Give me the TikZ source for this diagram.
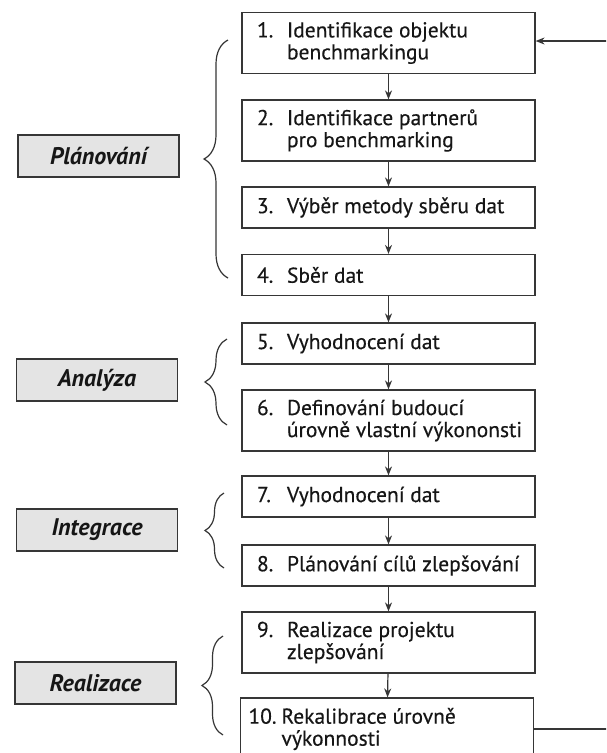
\documentclass[tikz,border=0pt]{standalone}
\usepackage{fontspec}
\setmainfont{PT Sans}
\newfontfamily\stepfont[FakeBold=0.35]{PT Sans}
\usetikzlibrary{arrows.meta,decorations.pathreplacing}
\definecolor{ink}{HTML}{161616}
\definecolor{edge}{HTML}{363636}
\definecolor{phasefill}{HTML}{E4E4E4}
% step text: number column, then the hanging text block
\newcommand{\stp}[2]{\hspace*{15pt}\makebox[30pt][l]{#1}\parbox[t]{248pt}{#2}}
\newcommand{\stpx}[2]{\hspace*{8pt}\makebox[33pt][l]{#1}\parbox[t]{252pt}{#2}}
\begin{document}
\begin{tikzpicture}[x=1pt,y=-1pt,
  stepbox/.style={draw=edge,line width=1.2pt,minimum width=293pt,inner xsep=0pt,
    inner ysep=0pt,text=ink,font=\stepfont\fontsize{21.5}{22}\selectfont},
  onel/.style={stepbox,minimum height=41pt},
  twol/.style={stepbox,minimum height=61pt},
  phase/.style={draw=edge,line width=1.2pt,fill=phasefill,minimum width=161pt,
    minimum height=42pt,text=ink,font=\fontsize{24}{24}\selectfont\bfseries\itshape},
  flow/.style={draw=edge,line width=1.2pt,-{Stealth[length=9pt,width=7pt]}},
  curly/.style={draw=edge,line width=1.2pt,decorate,decoration={brace,amplitude=#1}}
]
\useasboundingbox (0,0) rectangle (606,753);
\clip (0,0) rectangle (606,753);
\fill[white] (0,0) rectangle (606,753);

% process steps
\node[twol] (b1) at (388.5,43) {\stp{1.}{Identifikace objektu\\benchmarkingu}};
\node[twol] (b2) at (388.5,130.5) {\stp{2.}{Identifikace partnerů\\pro benchmarking}};
\node[onel] (b3) at (388.5,207.5) {\stp{3.}{Výběr metody sběru dat}};
\node[onel] (b4) at (388.5,275) {\stp{4.}{Sběr dat}};
\node[onel] (b5) at (388.5,343.5) {\stp{5.}{Vyhodnocení dat}};
\node[twol] (b6) at (388.5,420.5) {\stp{6.}{Definování budoucí\\úrovně vlastní výkononsti}};
\node[onel] (b7) at (388.5,496.5) {\stp{7.}{Vyhodnocení dat}};
\node[onel] (b8) at (388.5,565.5) {\stp{8.}{Plánování cílů zlepšování}};
\node[twol] (b9) at (388.5,642.5) {\stp{9.}{Realizace projektu\\zlepšování}};
\node[twol,minimum height=62pt] (b10) at (387,729) {\stpx{10.}{Rekalibrace úrovně\\výkonnosti}};

% sequence arrows
\foreach \a/\b in {b1/b2,b2/b3,b3/b4,b4/b5,b5/b6,b6/b7,b7/b8,b8/b9,b9/b10}
  \draw[flow] (\a) -- (\b);

% feedback loop from the last step back to the first
\draw[flow] (b10.east) -- ++(90,0) |- ([yshift=2pt]b1.east);

% phases
\node[phase] (p1) at (98.5,156) {Plánování};
\node[phase] (p2) at (97,380) {Analýza};
\node[phase] (p3) at (97,530) {Integrace};
\node[phase] (p4) at (95.5,683) {Realizace};

% braces grouping the steps of each phase
\draw[curly=24pt] (228,278) -- (228,40);
\draw[curly=22pt] (227,425) -- (227,339);
\draw[curly=19pt] (224,568) -- (224,493);
\draw[curly=21pt] (223,735) -- (223,636);
\end{tikzpicture}
\end{document}
